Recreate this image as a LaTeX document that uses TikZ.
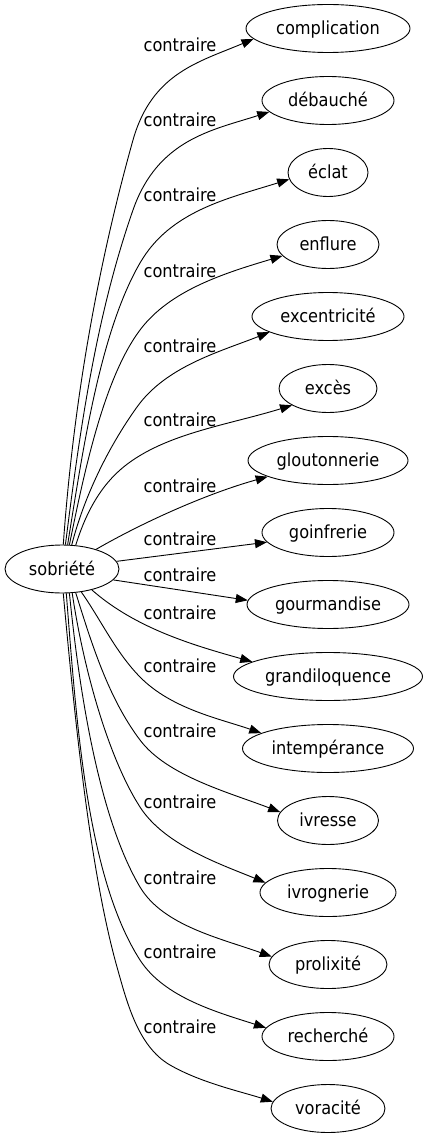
\documentclass[tikz,border=0pt]{standalone}
\usepackage{fontspec}
\setmainfont{DejaVu Sans}[FakeStretch=0.9]
\usetikzlibrary{shapes.geometric,arrows.meta}
\begin{document}
\begin{tikzpicture}[x=1pt,y=-1pt,
  word/.style={draw, ellipse, line width=0.9pt, minimum height=48pt, inner sep=0pt,
    text height=14pt, text depth=2pt, font=\fontsize{18}{20}\selectfont},
  lab/.style={inner sep=0pt, text height=14pt, text depth=2pt, font=\fontsize{18}{20}\selectfont},
  conn/.style={line width=0.9pt, -{Triangle[length=12pt,width=9pt]}}]
\useasboundingbox (0,0) rectangle (428,1139);
% nodes
\node[word, minimum width=114pt] (s) at (62,569) {sobriété};
\node[word, minimum width=164pt] (n0) at (328,28.5) {complication};
\node[word, minimum width=132pt] (n1) at (328,100.5) {débauché};
\node[word, minimum width=80pt] (n2) at (328,172.5) {éclat};
\node[word, minimum width=102pt] (n3) at (328,244.5) {enflure};
\node[word, minimum width=152pt] (n4) at (328,316.5) {excentricité};
\node[word, minimum width=98pt] (n5) at (328,388.5) {excès};
\node[word, minimum width=160pt] (n6) at (328,460.5) {gloutonnerie};
\node[word, minimum width=132pt] (n7) at (328,532.5) {goinfrerie};
\node[word, minimum width=162pt] (n8) at (328,604.5) {gourmandise};
\node[word, minimum width=189pt] (n9) at (328,676.5) {grandiloquence};
\node[word, minimum width=171pt] (n10) at (328,748.5) {intempérance};
\node[word, minimum width=101pt] (n11) at (328,820.5) {ivresse};
\node[word, minimum width=136pt] (n12) at (328,892.5) {ivrognerie};
\node[word, minimum width=118pt] (n13) at (328,964.5) {prolixité};
\node[word, minimum width=132pt] (n14) at (328,1036.5) {recherché};
\node[word, minimum width=114pt] (n15) at (328,1108.5) {voracité};
% labels
\node[lab] (l0) at (180,46) {contraire};
\node[lab] (l1) at (180,121) {contraire};
\node[lab] (l2) at (180,196) {contraire};
\node[lab] (l3) at (180,272) {contraire};
\node[lab] (l4) at (180,346) {contraire};
\node[lab] (l5) at (180,420) {contraire};
\node[lab] (l6) at (180,486) {contraire};
\node[lab] (l7) at (180,539) {contraire};
\node[lab] (l8) at (180,575) {contraire};
\node[lab] (l9) at (180,613) {contraire};
\node[lab] (l10) at (180,666) {contraire};
\node[lab] (l11) at (180,731) {contraire};
\node[lab] (l12) at (180,802) {contraire};
\node[lab] (l13) at (180,878) {contraire};
\node[lab] (l14) at (180,952) {contraire};
\node[lab] (l15) at (180,1027) {contraire};
% connectors
\draw[conn] (s.87) .. controls (73,408) and (96,272) .. (133,140) .. controls (152,73) and (199,62) .. (n0.188);
\draw[conn] (s.82) .. controls (79.7,432) and (95.4,317.6) .. (133,210) .. controls (157.8,139) and (213,130) .. (n1.191);
\draw[conn] (s.77) .. controls (83,449) and (100,332) .. (140,263) .. controls (170,211) and (227.6,198.6) .. (n2.190);
\draw[conn] (s.73) .. controls (84.3,471.5) and (104,378) .. (140,330) .. controls (170,290) and (225,273) .. (n3.194);
\draw[conn] (s.68) .. controls (84,497) and (108,447.5) .. (137,407) .. controls (166,366.5) and (219,352) .. (n4.195);
\draw[conn] (s.60) .. controls (84.5,517) and (97.5,490) .. (120,470) .. controls (161,434) and (226,425.6) .. (n5.205);
\draw[conn] (s.30) .. controls (147.8,519.6) and (210.4,492.6) .. (n6.195);
\draw[conn] (s.8) -- (n7.189);
\draw[conn] (s.-12) -- (n8.177);
\draw[conn] (s.-35) .. controls (136.3,629) and (195.3,645.7) .. (n9.169);
\draw[conn] (s.-50) .. controls (101,620) and (115.5,652) .. (140,677) .. controls (171.5,709) and (219.5,718.6) .. (n10.167);
\draw[conn] (s.-60) .. controls (91.4,642.6) and (108,697.6) .. (140,740) .. controls (167,776) and (229.2,792.5) .. (n11.170);
\draw[conn] (s.-67) .. controls (83,665.9) and (107.6,756.6) .. (140,807) .. controls (164.3,844.8) and (219.6,863.9) .. (n12.171);
\draw[conn] (s.-73) .. controls (79.3,692) and (99,818) .. (140,887) .. controls (163,925.7) and (220.6,938.3) .. (n13.172);
\draw[conn] (s.-80) .. controls (76.2,717.5) and (86,876) .. (140,960) .. controls (164.3,997.8) and (218.9,1012.7) .. (n14.172);
\draw[conn] (s.-87) .. controls (74.6,717.5) and (90,871) .. (117,967) .. controls (127,1002.5) and (138,1046.5) .. (170,1065) .. controls (200.3,1082.5) and (239.9,1091.3) .. (n15.173);
\end{tikzpicture}
\end{document}
